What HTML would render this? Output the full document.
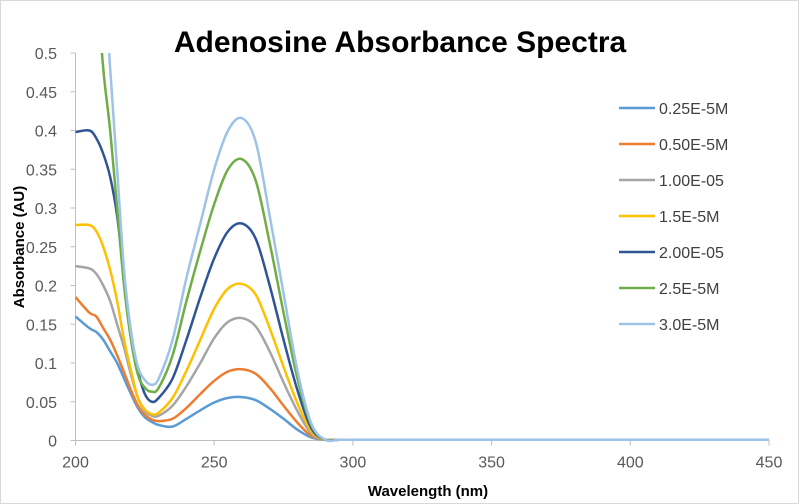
<!DOCTYPE html>
<html><head><meta charset="utf-8"><style>
body{margin:0;background:#fff;}
svg{display:block;font-family:"Liberation Sans",sans-serif;}
</style></head><body>
<svg id="chart" width="800" height="504">
<rect x="0.5" y="0.5" width="798" height="503" fill="#fff" stroke="#d9d9d9"/>
<text x="400" y="52" text-anchor="middle" font-size="30" font-weight="bold" fill="#000">Adenosine Absorbance Spectra</text>
<text transform="translate(24,247) rotate(-90)" text-anchor="middle" font-size="15" font-weight="bold" fill="#000">Absorbance (AU)</text>
<text x="428" y="496" text-anchor="middle" font-size="15" font-weight="bold" fill="#000">Wavelength (nm)</text>
<g id="axes"></g>
<defs><clipPath id="plotclip"><rect x="75" y="53" width="700" height="390"/></clipPath></defs>
<g id="series" clip-path="url(#plotclip)"></g>
<g id="legend"></g>
</svg>
<script>
const wavelengths=[200,205,207.5,210,212.5,215,217.5,220,222.5,225,227.5,230,235,240,245,250,255,260,265,270,275,280,285,290,295,300,320,340,360,380,400,420,440,450];
const s025=[0.16,0.145,0.14,0.13,0.115,0.10,0.08,0.06,0.042,0.03,0.024,0.02,0.018,0.028,0.039,0.049,0.055,0.056,0.052,0.041,0.028,0.014,0.004,0.001,0.001,0.001,0.001,0.001,0.001,0.001,0.001,0.001,0.001,0.001];
const s050=[0.185,0.165,0.16,0.145,0.13,0.11,0.088,0.065,0.045,0.033,0.027,0.025,0.028,0.042,0.06,0.077,0.089,0.092,0.086,0.068,0.045,0.023,0.006,0.001,0.001,0.001,0.001,0.001,0.001,0.001,0.001,0.001,0.001,0.001];
const s100=[0.225,0.222,0.215,0.2,0.18,0.15,0.12,0.085,0.055,0.038,0.032,0.032,0.045,0.07,0.10,0.132,0.153,0.158,0.147,0.115,0.075,0.038,0.009,0.001,0.001,0.001,0.001,0.001,0.001,0.001,0.001,0.001,0.001,0.001];
const s150=[0.278,0.278,0.27,0.25,0.22,0.18,0.13,0.09,0.055,0.04,0.034,0.036,0.055,0.09,0.13,0.17,0.196,0.202,0.188,0.145,0.095,0.048,0.012,0.001,0.001,0.001,0.001,0.001,0.001,0.001,0.001,0.001,0.001,0.001];
const s200=[0.398,0.40,0.39,0.37,0.34,0.29,0.21,0.14,0.09,0.06,0.05,0.055,0.08,0.13,0.185,0.235,0.27,0.28,0.26,0.20,0.13,0.065,0.016,0.001,0.001,0.001,0.001,0.001,0.001,0.001,0.001,0.001,0.001,0.001];
const s250=[1.0,0.75,0.6,0.48,0.40,0.30,0.20,0.13,0.085,0.068,0.063,0.068,0.11,0.18,0.245,0.305,0.35,0.363,0.335,0.255,0.165,0.08,0.02,0.001,0.001,0.001,0.001,0.001,0.001,0.001,0.001,0.001,0.001,0.001];
const s300=[1.2,0.9,0.75,0.62,0.48,0.35,0.22,0.14,0.095,0.078,0.072,0.08,0.13,0.21,0.28,0.35,0.40,0.416,0.385,0.29,0.19,0.09,0.022,0.001,0.001,0.001,0.001,0.001,0.001,0.001,0.001,0.001,0.001,0.001];
const seriesNames=["0.25E-5M","0.50E-5M","1.00E-05","1.5E-5M","2.00E-05","2.5E-5M","3.0E-5M"];
const seriesData=[s025,s050,s100,s150,s200,s250,s300];
const colors=["#5B9BD5","#ED7D31","#A5A5A5","#FFC000","#2F5597","#70AD47","#9DC3E6"];
const xTicks=[200,250,300,350,400,450];
const yTicks=[0,0.05,0.1,0.15,0.2,0.25,0.3,0.35,0.4,0.45,0.5];
const yTickLabels=["0","0.05","0.1","0.15","0.2","0.25","0.3","0.35","0.4","0.45","0.5"];

const NS="http://www.w3.org/2000/svg";
const X0=75.5,X1=769,Y0=440.5,Y1=53;
const xs=v=>X0+(v-200)/250*(X1-X0);
const ys=v=>Y0-(v/0.5)*(Y0-Y1);
function mk(tag,attrs,parent){const e=document.createElementNS(NS,tag);for(const k in attrs)e.setAttribute(k,attrs[k]);parent.appendChild(e);return e;}
const axes=document.getElementById('axes');
let a=mk('line',{x1:X0,y1:Y1,x2:X0,y2:Y0,stroke:'#bfbfbf'},axes);


a=mk('line',{x1:X0,y1:Y0,x2:X1,y2:Y0,stroke:'#bfbfbf'},axes);


xTicks.forEach(t=>{
 const x=xs(t);
 const l=mk('line',{x1:x,y1:Y0,x2:x,y2:Y0+5,stroke:'#bfbfbf'},axes);
 
 
 const tx=mk('text',{x:x,y:Y0+27,'text-anchor':'middle','font-size':16,fill:'#595959'},axes);
 tx.textContent=t;
 
 
});
yTicks.forEach((t,i)=>{
 const y=ys(t);
 const l=mk('line',{x1:X0-5,y1:y,x2:X0,y2:y,stroke:'#bfbfbf'},axes);
 
 
 const tx=mk('text',{x:57,y:y+6,'text-anchor':'end','font-size':16,fill:'#595959'},axes);
 tx.textContent=yTickLabels[i];
 
 
});
function smoothPath(pts){
 let d='M'+pts[0][0]+','+pts[0][1];
 for(let i=0;i<pts.length-1;i++){
  const p0=pts[i-1]||pts[i],p1=pts[i],p2=pts[i+1],p3=pts[i+2]||p2;
  const c1=[p1[0]+(p2[0]-p0[0])/6,p1[1]+(p2[1]-p0[1])/6];
  const c2=[p2[0]-(p3[0]-p1[0])/6,p2[1]-(p3[1]-p1[1])/6];
  d+=' C'+c1.join(',')+' '+c2.join(',')+' '+p2.join(',');
 }
 return d;
}
const sg=document.getElementById('series');
seriesData.forEach((arr,si)=>{
 const pts=wavelengths.map((w,i)=>[xs(w),ys(arr[i])]);
 const p=mk('path',{d:smoothPath(pts),fill:'none',stroke:colors[si],'stroke-width':2.5,'stroke-linejoin':'round'},sg);
 
 
});
const lg=document.getElementById('legend');
seriesNames.forEach((n,i)=>{
 const y=108+i*36;
 const g=mk('g',{},lg);
 
 
 mk('line',{x1:619,y1:y,x2:655,y2:y,stroke:colors[i],'stroke-width':2.5},g);
 const t=mk('text',{x:659,y:y+6,'font-size':16,fill:'#404040'},g);
 t.textContent=n;
});
</script>
</body></html>
